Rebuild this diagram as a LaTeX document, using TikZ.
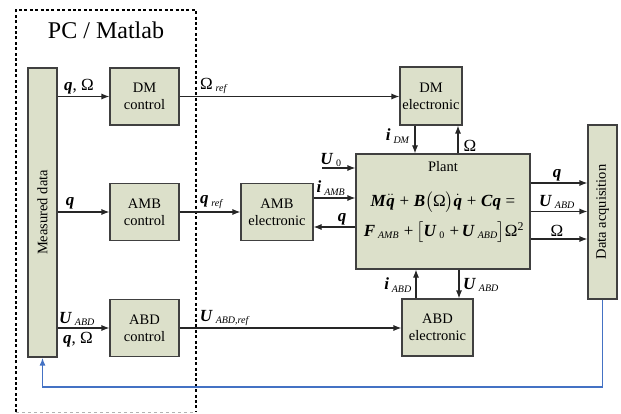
\documentclass[tikz,border=0pt]{standalone}
\usepackage{amsmath}
\usepackage{fontspec}
\setmainfont{Liberation Serif}
\usepackage{tikz}
\usetikzlibrary{arrows.meta,positioning,calc}
\definecolor{BoxFill}{HTML}{DCE0CA}
\definecolor{BoxLine}{HTML}{404040}
\definecolor{FbBlue}{HTML}{4472C4}
\newcommand{\bv}[1]{\textbf{\textit{#1}}}
\newcommand{\ix}[1]{\,\textsubscript{\fontsize{10}{10}\selectfont\textit{#1}}}
\newcommand{\iz}[1]{\,\textsubscript{\fontsize{10}{10}\selectfont #1}}
\newcommand{\lb}{\fontsize{17}{19}\selectfont}

\begin{document}
\begin{tikzpicture}[
    x=1pt, y=-1pt,
    blk/.style={draw=BoxLine, line width=1.1pt, fill=BoxFill, align=center, inner sep=1pt, font=\fontsize{14.5}{17}\selectfont},
    ctrl/.style={blk, minimum width=69pt, minimum height=57pt},
    elec/.style={blk, minimum width=70pt, minimum height=57pt},
    tall/.style={blk, rotate=90, minimum height=29pt},
    lab/.style={inner sep=0pt, font=\lb},
    eqn/.style={inner sep=0pt, font=\fontsize{17}{19}\selectfont},
    arrow/.style={-{Latex[length=8pt,width=6pt]}, line width=1.1pt, draw=black!85},
    fb/.style={-{Latex[length=8pt,width=6pt]}, line width=1.6pt, draw=FbBlue},
    pcline/.style={line width=2.4pt, dash pattern=on 3pt off 2.4pt}
  ]
    \useasboundingbox (0,0) rectangle (621,414);

    \draw[pcline] (16,412) |- (196,10) -- (196,412);
    \draw[gray!60, line width=0.6pt, dashed] (16,412) -- (196,412);
    \node[font=\fontsize{24}{26}\selectfont] (pc) at (106,30) {PC / Matlab};

    \node[tall, minimum width=289pt] (meas) at (42.5,212.5) {Measured data};
    \node[ctrl] (dmc) at (144.5,96.5) {DM\\control};
    \node[ctrl] (ambc) at (144.5,212) {AMB\\control};
    \node[ctrl] (abdc) at (144.5,328) {ABD\\control};

    \node[blk, minimum width=62pt, minimum height=58pt] (dme) at (431,96) {DM\\electronic};
    \node[elec, minimum width=72pt] (ambe) at (277,212) {AMB\\electronic};
    \node[elec, minimum width=71pt] (abde) at (437.5,327.5) {ABD\\electronic};

    \node[blk, minimum width=174pt, minimum height=115pt] (plant) at (443,211.5) {};
    \node[font=\fontsize{14.5}{17}\selectfont] (ptitle) at (443,167) {Plant};
    \node[eqn] (eqa) at (443,202)
      {\bv{M}$\ddot{\hbox{\bv{q}}}$\;+\;\bv{B}$\bigl($Ω$\bigr)$$\dot{\hbox{\bv{q}}}$\;+\;\bv{Cq}\;=};
    \node[eqn] (eqb) at (444,232)
      {\bv{F}\ix{AMB}\;+\,$\bigl[$\bv{U}\iz{0}\;+\,\bv{U}\ix{ABD}$\bigr]$Ω\textsuperscript{2}};

    \node[tall, minimum width=174pt] (daq) at (602.5,212) {Data acquisition};

    \draw[arrow] (meas.south |- dmc.west) -- (dmc.west);
    \draw[arrow] (meas.south |- ambc.west) -- (ambc.west);
    \draw[arrow] (meas.south |- abdc.west) -- (abdc.west);
    \node[lab] (l1) at (79,87) {\bv{q}, Ω};
    \node[lab] (l2) at (70,203) {\bv{q}};
    \node[lab] (l3) at (77,319) {\bv{U}\ix{ABD}};
    \node[lab] (l4) at (78,340) {\bv{q}, Ω};

    \draw[arrow] (dmc.east) -- (dmc.east -| dme.west);
    \draw[arrow] (ambc.east) -- (ambe.west);
    \draw[arrow] (abdc.east) -- (abdc.east -| abde.west);
    \node[lab] (l5) at (214,86) {Ω\ix{ref}};
    \node[lab] (l6) at (212,202) {\bv{q}\ix{ref}};
    \node[lab] (l7) at (225,318) {\bv{U}\ix{ABD,ref}};

    \coordinate (idm) at ([xshift=-28pt]plant.north);
    \coordinate (om) at ([xshift=15pt]plant.north);
    \draw[arrow] (idm |- dme.south) -- (idm);
    \draw[arrow] (om) -- (om |- dme.south);
    \node[lab] (l8) at (398,136) {\bv{i}\ix{DM}};
    \node[lab] (l9) at (470,146) {Ω};

    \coordinate (u0) at (322,168);
    \draw[arrow] (u0) -- (u0 -| plant.west);
    \node[lab] (l10) at (331,160) {\bv{U}\iz{0}};
    \draw[arrow] ([yshift=14pt]ambe.east) coordinate (iamb) -- (iamb -| plant.west);
    \node[lab] (l11) at (331,188) {\bv{i}\ix{AMB}};
    \draw[arrow] ([yshift=-15.5pt]plant.west) coordinate (qb) -- (qb -| ambe.east);
    \node[lab] (l12) at (342,219) {\bv{q}};

    \coordinate (iabd) at ([xshift=-27pt]plant.south);
    \coordinate (uabd) at ([xshift=16pt]plant.south);
    \draw[arrow] (iabd |- abde.north) -- (iabd);
    \draw[arrow] (uabd) -- (uabd |- abde.north);
    \node[lab] (l13) at (398,285) {\bv{i}\ix{ABD}};
    \node[lab] (l14) at (481,285) {\bv{U}\ix{ABD}};

    \draw[arrow] ([yshift=28.5pt]plant.east) coordinate (o1) -- (o1 -| daq.north);
    \draw[arrow] (plant.east) -- (plant.east -| daq.north);
    \draw[arrow] ([yshift=-27.5pt]plant.east) coordinate (o3) -- (o3 -| daq.north);
    \node[lab] (l15) at (557,175) {\bv{q}};
    \node[lab] (l16) at (557,202) {\bv{U}\ix{ABD}};
    \node[lab] (l17) at (557,231) {Ω};

    \coordinate (fbc) at (42.5,387);
    \draw[fb] (daq.west) |- (fbc) -- (meas.west);
  \end{tikzpicture}
\end{document}
